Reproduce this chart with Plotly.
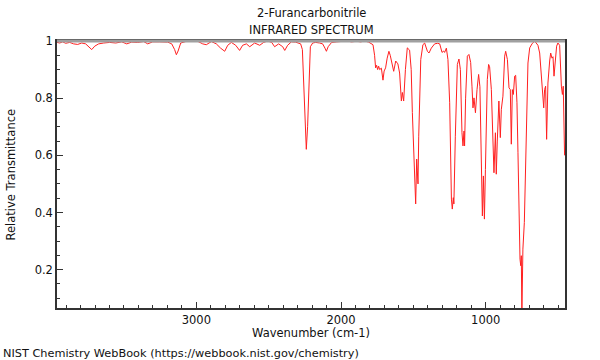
import plotly.graph_objects as go

wavenumber = [
    3963, 3944, 3924, 3903, 3875, 3848, 3820, 3792, 3765, 3744, 3723, 3702, 3675, 3640, 3599,
    3557, 3516, 3481, 3447, 3405, 3364, 3336, 3302, 3253, 3198, 3170, 3150, 3138, 3126, 3108,
    3074, 3032, 2991, 2956, 2931, 2896, 2862, 2832, 2804, 2783, 2758, 2728, 2701, 2680, 2654,
    2631, 2597, 2562, 2535, 2507, 2479, 2459, 2431, 2403, 2389, 2369, 2343, 2314, 2279, 2267,
    2258, 2248, 2240, 2231, 2222, 2212, 2196, 2175, 2148, 2127, 2111, 2101, 2089, 2065, 2030,
    1996, 1961, 1927, 1892, 1864, 1837, 1809, 1779, 1768, 1761, 1754, 1747, 1740, 1733, 1721,
    1710, 1702, 1692, 1681, 1669, 1660, 1652, 1643, 1636, 1622, 1607, 1595, 1583, 1576, 1567,
    1555, 1542, 1526, 1515, 1507, 1498, 1491, 1484, 1477, 1468, 1463, 1456, 1449, 1434, 1422,
    1403, 1392, 1376, 1353, 1332, 1318, 1302, 1291, 1284, 1272, 1261, 1249, 1237, 1231, 1224,
    1220, 1210, 1196, 1185, 1175, 1164, 1157, 1150, 1146, 1139, 1127, 1116, 1104, 1095, 1088,
    1081, 1071, 1060, 1049, 1040, 1030, 1023, 1016, 1009, 1002, 995, 989, 980, 973, 961,
    950, 943, 933, 927, 920, 909, 899, 892, 881, 869, 862, 850, 839, 830, 823,
    816, 809, 800, 793, 784, 777, 770, 763, 758, 754, 750, 743, 733, 724, 715,
    708, 696, 680, 662, 650, 639, 627, 615, 604, 599, 593, 586, 579, 570, 558,
    551, 542, 535, 528, 519, 510, 501, 489, 477, 470, 464, 455,
]
transmittance = [
    0.995, 0.993, 0.997, 0.992, 0.995, 0.990, 0.988, 0.993, 0.990, 0.980, 0.970, 0.982, 0.990, 0.993, 0.995,
    0.993, 0.997, 0.990, 0.996, 0.995, 0.998, 0.990, 0.997, 0.997, 0.996, 0.990, 0.970, 0.952, 0.965, 0.993,
    0.998, 0.999, 0.999, 0.990, 0.987, 0.998, 0.990, 0.975, 0.964, 0.985, 0.995, 0.985, 0.967, 0.985, 0.990,
    0.980, 0.993, 0.985, 0.995, 1.000, 0.995, 0.980, 0.990, 0.980, 0.967, 0.985, 0.997, 0.996, 0.990, 0.970,
    0.850, 0.680, 0.621, 0.700, 0.880, 0.980, 0.993, 0.995, 0.993, 0.990, 0.975, 0.964, 0.980, 0.995, 0.997,
    0.999, 1.000, 0.997, 0.999, 0.997, 1.000, 0.996, 0.987, 0.950, 0.906, 0.915, 0.900, 0.912, 0.900, 0.905,
    0.863, 0.895, 0.906, 0.940, 0.964, 0.950, 0.930, 0.910, 0.894, 0.930, 0.920, 0.888, 0.790, 0.820, 0.790,
    0.900, 0.976, 0.968, 0.900, 0.750, 0.600, 0.528, 0.430, 0.587, 0.500, 0.667, 0.824, 0.935, 0.987, 0.993,
    0.964, 0.958, 0.975, 0.990, 0.992, 0.990, 0.960, 0.965, 0.960, 0.975, 0.935, 0.784, 0.447, 0.412, 0.452,
    0.430, 0.667, 0.918, 0.937, 0.900, 0.679, 0.633, 0.685, 0.633, 0.800, 0.947, 0.953, 0.925, 0.842, 0.766,
    0.801, 0.749, 0.830, 0.883, 0.840, 0.609, 0.388, 0.528, 0.377, 0.550, 0.784, 0.865, 0.918, 0.910, 0.830,
    0.633, 0.539, 0.679, 0.534, 0.650, 0.790, 0.662, 0.761, 0.807, 0.947, 0.964, 0.935, 0.836, 0.830, 0.639,
    0.830, 0.813, 0.877, 0.880, 0.784, 0.609, 0.400, 0.237, 0.214, 0.249, 0.040, 0.272, 0.365, 0.550, 0.784,
    0.923, 0.976, 0.990, 1.000, 0.990, 0.985, 0.958, 0.877, 0.784, 0.766, 0.830, 0.842, 0.656, 0.853, 0.930,
    0.958, 0.940, 0.945, 0.877, 0.930, 0.982, 0.993, 0.985, 0.842, 0.813, 0.842, 0.600,
]

x_range = [3963, 452]
y_range = [0.066, 1.0]
x_ticks = [3000, 2000, 1000]
y_ticks = [0.2, 0.4, 0.6, 0.8, 1.0]
y_tick_labels = ["0.2", "0.4", "0.6", "0.8", "1"]

font = "DejaVu Sans"
fs = 11.5

fig = go.Figure()
fig.add_trace(go.Scatter(
    x=wavenumber, y=transmittance, mode="lines",
    line=dict(color="#ff2020", width=1), hoverinfo="skip", showlegend=False,
))

fig.update_layout(
    width=600, height=360,
    margin=dict(l=57, r=35, t=41, b=52),
    paper_bgcolor="white", plot_bgcolor="white",
    font=dict(family=font, size=fs, color="#111"),
    xaxis=dict(
        range=x_range, showgrid=False, zeroline=False,
        tickvals=x_ticks, ticktext=[str(v) for v in x_ticks],
        ticks="inside", ticklen=6, tickcolor="#333", tickwidth=1,
        minor=dict(dtick=100, tick0=0, ticks="inside", ticklen=3, tickcolor="#333"),
        showline=True, linecolor="#333", linewidth=1.5, mirror=True,
    ),
    yaxis=dict(
        range=y_range, showgrid=False, zeroline=False,
        tickvals=y_ticks, ticktext=y_tick_labels,
        ticks="inside", ticklen=6, tickcolor="#333", tickwidth=1,
        minor=dict(dtick=0.05, tick0=0, ticks="inside", ticklen=3, tickcolor="#333"),
        showline=True, linecolor="#333", linewidth=1.5, mirror=True,
    ),
    shapes=[dict(type="line", xref="paper", yref="paper", x0=0, x1=1, y0=1, y1=1,
                 line=dict(color="#a0a0a0", width=3), layer="above")],
    annotations=[
        dict(text="2-Furancarbonitrile", xref="paper", yref="paper", x=0.5, y=1,
             yanchor="middle", yshift=28, showarrow=False, font=dict(size=fs)),
        dict(text="INFRARED SPECTRUM", xref="paper", yref="paper", x=0.5, y=1,
             yanchor="middle", yshift=11, showarrow=False, font=dict(size=fs)),
        dict(text="Wavenumber (cm-1)", xref="paper", yref="paper", x=0.5, y=0,
             yanchor="middle", yshift=-25, showarrow=False, font=dict(size=fs)),
        dict(text="Relative Transmittance", xref="paper", yref="paper", x=0, y=0.5,
             xanchor="center", yanchor="middle", xshift=-47, textangle=-90,
             showarrow=False, font=dict(size=fs)),
        dict(text="NIST Chemistry WebBook (https://webbook.nist.gov/chemistry)",
             xref="paper", yref="paper", x=0, xanchor="left", xshift=-56, y=0,
             yanchor="middle", yshift=-45, showarrow=False, font=dict(size=11.3)),
    ],
)

fig.write_html("out.html", config={"displayModeBar": False},
               post_script="document.body.style.margin='0px';")
